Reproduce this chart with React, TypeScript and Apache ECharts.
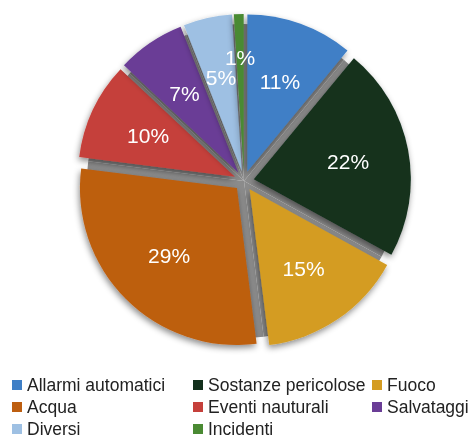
import React, { useEffect, useRef } from 'react';
import * as echarts from 'echarts';

const categories = [
  'Allarmi automatici',
  'Sostanze pericolose',
  'Fuoco',
  'Acqua',
  'Eventi nauturali',
  'Salvataggi',
  'Diversi',
  'Incidenti',
];
const values = [11, 22, 15, 29, 10, 7, 5, 1];
const colors = ['#3f7fc6', '#13301c', '#d49c22', '#bd5e10', '#c5403b', '#6a3d96', '#9ec0e3', '#4a8a33'];
const legendColumns = [
  [0, 3, 6],
  [1, 4, 7],
  [2, 5],
];

const FONT = '"Liberation Sans", Arial, Helvetica, sans-serif';

export default function App() {
  const ref = useRef<HTMLDivElement>(null);
  useEffect(() => {
    const chart = echarts.init(ref.current!, null, { renderer: 'svg' });
    const cx = 244;
    const cy = 181;
    const R = 157;
    const OFFSET = 10;
    const LABEL_R = 106;
    const LABEL_R_SMALL = 124;
    const total = values.reduce((a, b) => a + b, 0);
    const legendLefts = [12, 193, 372];
    chart.setOption({
      animation: false,
      legend: legendColumns.map((col, i) => ({
        orient: 'vertical',
        left: legendLefts[i],
        top: 376,
        height: 90,
        padding: 0,
        itemWidth: 10,
        itemHeight: 10,
        itemGap: 4,
        icon: 'rect',
        selectedMode: false,
        textStyle: { fontFamily: FONT, fontSize: 17.5, lineHeight: 18, color: '#222' },
        data: col.map((k) => ({ name: categories[k], itemStyle: { color: colors[k] } })),
      })),
      series: [
        {
          type: 'pie',
          center: [cx, cy],
          radius: R,
          startAngle: 90,
          silent: true,
          label: { show: false },
          labelLine: { show: false },
          emphasis: { disabled: true },
          itemStyle: { color: '#8b8b8b' },
          data: values.map((v) => ({ value: v })),
        },
        {
          type: 'pie',
          center: [cx, cy],
          radius: R,
          startAngle: 90,
          silent: true,
          selectedMode: 'multiple',
          selectedOffset: OFFSET,
          label: { show: false },
          labelLine: { show: false },
          emphasis: { disabled: true },
          itemStyle: {
            shadowBlur: 6,
            shadowColor: 'rgba(0,0,0,0.45)',
            shadowOffsetX: -1,
            shadowOffsetY: 3,
          },
          data: categories.map((name, i) => ({
            name,
            value: values[i],
            selected: true,
            itemStyle: { color: colors[i] },
          })),
        },
        {
          type: 'custom',
          coordinateSystem: 'none',
          silent: true,
          z: 10,
          data: values,
          renderItem: (params: any) => {
            const i = params.dataIndex;
            let before = 0;
            for (let k = 0; k < i; k++) before += values[k];
            const share = values[i] / total;
            const mid = ((before + values[i] / 2) / total) * Math.PI * 2;
            const r = share < 0.03 ? LABEL_R_SMALL : LABEL_R;
            const x = cx + r * Math.sin(mid);
            const y = cy - r * Math.cos(mid);
            return {
              type: 'text',
              x,
              y,
              style: {
                text: values[i] + '%',
                fill: '#ffffff',
                fontFamily: FONT,
                fontSize: 21,
                align: 'center',
                verticalAlign: 'middle',
              },
            };
          },
        },
      ],
    });
    return () => chart.dispose();
  }, []);
  return <div ref={ref} style={{ position: 'fixed', left: 0, top: 0, width: 473, height: 438 }} />;
}
